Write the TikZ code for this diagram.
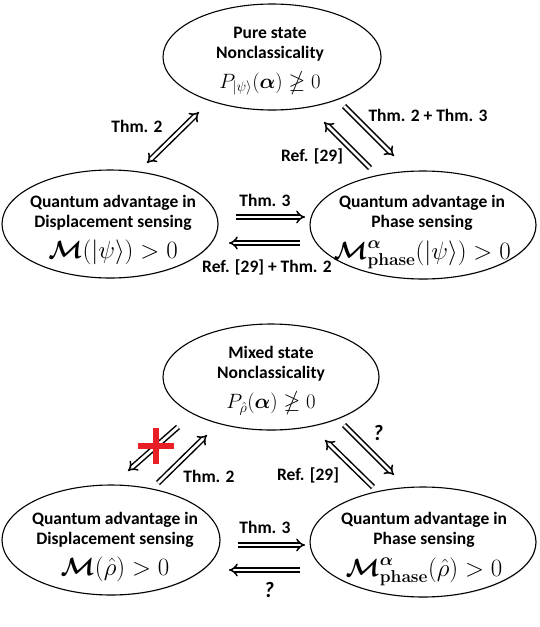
\documentclass[tikz,border=0pt]{standalone}
\usepackage{amsmath}
\usepackage{amssymb}
\usepackage[no-math]{fontspec}
\usepackage{tikz}
\usetikzlibrary{shapes.geometric}
\usetikzlibrary{arrows.meta}
\usetikzlibrary{shadows}
\newfontfamily\lblfont{Carlito}
\newcommand{\Mqa}{\ensuremath{\boldsymbol{\mathcal{M}}}}
\newcommand{\Mph}{\ensuremath{\boldsymbol{\mathcal{M}}^{\boldsymbol{\alpha}}_{\mathbf{phase}}}}
\newcommand{\valpha}{\ensuremath{\boldsymbol{\alpha}}}
\definecolor{crossred}{RGB}{232,32,38}

\begin{document}
\begin{tikzpicture}[x=1pt, y=-1pt,
    stateE/.style={draw, ellipse, line width=1.1pt, fill=white, inner sep=0pt,
      drop shadow={shadow xshift=0.8pt, shadow yshift=-0.8pt, opacity=0.25}},
    txt/.style={font=\lblfont\bfseries\fontsize{17.5}{20}\selectfont, align=center, inner sep=0pt},
    lbl/.style={font=\lblfont\bfseries\fontsize{17.5}{20}\selectfont, inner sep=0pt},
    qmark/.style={font=\lblfont\bfseries\itshape\fontsize{22}{24}\selectfont, inner sep=0pt},
    impl/.style={double, double distance=2.8pt, line width=1.5pt},
    crossbar/.style={crossred, line width=6.5pt}]
  \useasboundingbox (0,0) rectangle (540,627);
  \begin{scope}[>={Implies}] %double arrows

    % pure state: ellipses
    \node (pure) at (272,57) [stateE, minimum width=218pt, minimum height=106pt] {};
    \node (dispA) at (110,224) [stateE, minimum width=216pt, minimum height=108pt] {};
    \node (phA) at (423,225) [stateE, minimum width=226pt, minimum height=108pt] {};

    % pure state: texts
    \node (pureT) at (270,61) [txt] {Pure state\\Nonclassicality\\[10pt]{\fontsize{21.5}{24}\selectfont$P_{|\psi\rangle}(\valpha)\ngeq 0$}};
    \node (dispAT) at (113,230) [txt] {Quantum advantage in\\Displacement sensing\\[9pt]{\fontsize{24}{26}\selectfont$\Mqa(|\psi\rangle) > 0$}};
    \node (phAT) at (422,232) [txt] {Quantum advantage in\\Phase sensing\\[9pt]{\fontsize{23}{26}\selectfont$\Mph(|\psi\rangle) > 0$}};

    % pure state: arrow ends
    \coordinate (a1) at (147,163); \coordinate (a2) at (199,112);
    \coordinate (b1) at (344,106); \coordinate (b2) at (394,156);
    \coordinate (c1) at (370,168); \coordinate (c2) at (324,122);
    \coordinate (d1) at (236,217); \coordinate (d2) at (305,217);
    \coordinate (e1) at (300,243); \coordinate (e2) at (229,243);

    % pure state: arrows and labels
    \draw[<->, impl] (a1) -- (a2);
    \draw[->, impl] (b1) -- (b2);
    \draw[->, impl] (c1) -- (c2);
    \draw[->, impl] (d1) -- (d2);
    \draw[->, impl] (e1) -- (e2);
    \node (la) at (137,126) [lbl] {Thm. 2};
    \node (lb) at (428,115) [lbl] {Thm. 2 + Thm. 3};
    \node (lc) at (312,156) [lbl] {Ref. [29]};
    \node (ld) at (265,200) [lbl] {Thm. 3};
    \node (le) at (267,267) [lbl] {Ref. [29] + Thm. 2};

    % mixed state: ellipses
    \node (mixed) at (271,377) [stateE, minimum width=216pt, minimum height=106pt] {};
    \node (dispB) at (111,540) [stateE, minimum width=218pt, minimum height=110pt] {};
    \node (phB) at (423,542) [stateE, minimum width=226pt, minimum height=110pt] {};

    % mixed state: texts
    \node (mixedT) at (271,381) [txt] {Mixed state\\Nonclassicality\\[10pt]{\fontsize{21.5}{24}\selectfont$P_{\hat{\rho}}(\valpha)\ngeq 0$}};
    \node (dispBT) at (115,547) [txt] {Quantum advantage in\\Displacement sensing\\[9pt]{\fontsize{24}{26}\selectfont$\Mqa(\hat{\rho}) > 0$}};
    \node (phBT) at (424,549) [txt] {Quantum advantage in\\Phase sensing\\[9pt]{\fontsize{23}{26}\selectfont$\Mph(\hat{\rho}) > 0$}};

    % mixed state: arrow ends
    \coordinate (f1) at (178,427); \coordinate (f2) at (128,471);
    \coordinate (g1) at (158,483); \coordinate (g2) at (207,435);
    \coordinate (h1) at (344,425); \coordinate (h2) at (394,475);
    \coordinate (i1) at (373,487); \coordinate (i2) at (325,440);
    \coordinate (j1) at (238,545); \coordinate (j2) at (305,545);
    \coordinate (k1) at (300,570); \coordinate (k2) at (229,570);

    % mixed state: arrows and labels
    \draw[->, impl] (f1) -- (f2);
    \draw[->, impl] (g1) -- (g2);
    \draw[->, impl] (h1) -- (h2);
    \draw[->, impl] (i1) -- (i2);
    \draw[->, impl] (j1) -- (j2);
    \draw[->, impl] (k1) -- (k2);
    \node (lg) at (209,476) [lbl] {Thm. 2};
    \node (lh) at (378,433) [qmark] {?};
    \node (li) at (308,475) [lbl] {Ref. [29]};
    \node (lj) at (265,527) [lbl] {Thm. 3};
    \node (lk) at (269,590) [qmark] {?};

    % red cross on the crossed arrow
    \coordinate (cross) at (156,446);
    \draw[crossbar] ([xshift=-18pt]cross) -- ([xshift=18pt]cross);
    \draw[crossbar] ([yshift=18pt]cross) -- ([yshift=-18pt]cross);

  \end{scope}
\end{tikzpicture}
\end{document}
